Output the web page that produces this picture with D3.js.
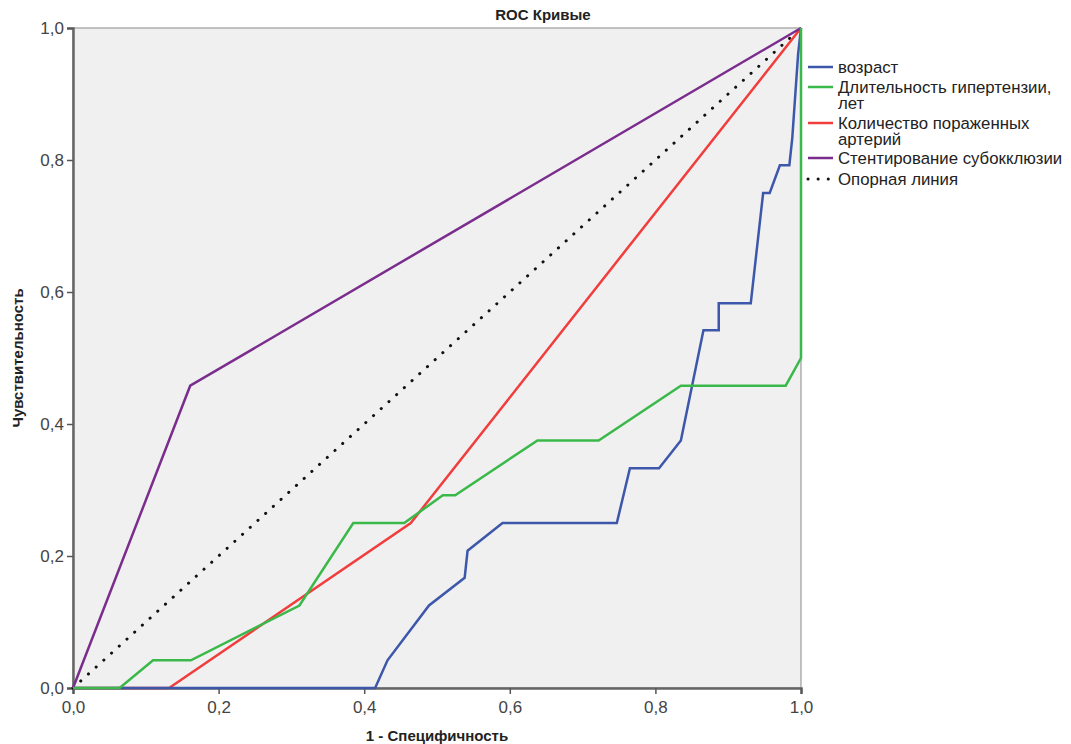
<!DOCTYPE html>
<html>
<head>
<meta charset="utf-8">
<script src="https://cdn.jsdelivr.net/npm/d3@7"></script>
<style>
  body { margin: 0; background: #fff; }
  svg { font-family: "Liberation Sans", Arial, sans-serif; }
</style>
</head>
<body>
<svg id="chart" width="1071" height="744"></svg>
<script>
// ROC curves, points (1 - specificity, sensitivity)
var ageX  = [0, 0.415, 0.432, 0.489, 0.538, 0.542, 0.590, 0.747, 0.765, 0.805, 0.835, 0.866, 0.887, 0.887, 0.931, 0.948, 0.957, 0.971, 0.984, 0.988, 0.996, 1];
var ageY  = [0, 0, 0.042, 0.125, 0.167, 0.208, 0.25, 0.25, 0.333, 0.333, 0.375, 0.542, 0.542, 0.583, 0.583, 0.75, 0.75, 0.792, 0.792, 0.833, 0.96, 1];
var hypX  = [0, 0.064, 0.110, 0.162, 0.311, 0.385, 0.455, 0.508, 0.525, 0.638, 0.722, 0.835, 0.979, 1, 1];
var hypY  = [0, 0, 0.042, 0.042, 0.125, 0.25, 0.25, 0.292, 0.292, 0.375, 0.375, 0.458, 0.458, 0.5, 1];
var artX  = [0, 0.132, 0.464, 1];
var artY  = [0, 0, 0.25, 1];
var stentX = [0, 0.161, 1];
var stentY = [0, 0.458, 1];
var refX  = [0, 1];
var refY  = [0, 1];

var seriesNames = ["возраст", "Длительность гипертензии, лет", "Количество пораженных артерий", "Стентирование субокклюзии", "Опорная линия"];
var legendLines = [["возраст"], ["Длительность гипертензии,", "лет"], ["Количество пораженных", "артерий"], ["Стентирование субокклюзии"], ["Опорная линия"]];
var colors = ["#3d57aa", "#3ab94a", "#f23d3d", "#7b2d8e", "#111111"];
var tickVals = [0, 0.2, 0.4, 0.6, 0.8, 1.0];

var svg = d3.select("#chart");
var margin = {top: 28, left: 73},
    width = 728,
    height = 660;

var x = d3.scaleLinear().domain([0, 1]).range([margin.left, margin.left + width]);
var y = d3.scaleLinear().domain([0, 1]).range([margin.top + height, margin.top]);

// plot background
svg.append("rect")
    .attr("x", x(0)).attr("y", y(1))
    .attr("width", x(1) - x(0)).attr("height", y(0) - y(1))
    .attr("fill", "#f0f0f0")
    .attr("stroke", "#8a8a8a").attr("stroke-width", 1);

var fmt = function (d) { return d3.format(".1f")(d).replace(".", ","); };

var xAxis = svg.append("g")
    .attr("transform", "translate(0," + y(0) + ")")
    .call(d3.axisBottom(x).tickValues(tickVals).tickFormat(fmt).tickSize(6).tickPadding(7));
var yAxis = svg.append("g")
    .attr("transform", "translate(" + x(0) + ",0)")
    .call(d3.axisLeft(y).tickValues(tickVals).tickFormat(fmt).tickSize(6).tickPadding(3));

[xAxis, yAxis].forEach(function (g) {
    g.select(".domain").attr("stroke", "#666").attr("stroke-width", 2.5);
    g.selectAll(".tick line").attr("stroke", "#555").attr("stroke-width", 1.5);
    g.selectAll(".tick text").attr("fill", "#444").style("font-size", "17px")
        .style("font-family", "'Liberation Sans', Arial, sans-serif");
});
yAxis.selectAll(".tick text").attr("dy", "0.35em");

var line = d3.line().x(function (d) { return x(d[0]); }).y(function (d) { return y(d[1]); });
var series = [
    d3.zip(ageX, ageY),
    d3.zip(hypX, hypY),
    d3.zip(artX, artY),
    d3.zip(stentX, stentY)
];

// reference line first (drawn under)
svg.append("path")
    .datum(d3.zip(refX, refY))
    .attr("d", line)
    .attr("fill", "none")
    .attr("stroke", colors[4])
    .attr("stroke-width", 3)
    .attr("stroke-linecap", "round")
    .attr("stroke-dasharray", "0.1,10.3");

var order = [2, 3, 0, 1];
order.forEach(function (i) {
    svg.append("path")
        .datum(series[i])
        .attr("d", line)
        .attr("fill", "none")
        .attr("stroke", colors[i])
        .attr("stroke-width", 2.5)
        .attr("stroke-linejoin", "miter");
});

// legend
var legY = [67, 87, 123, 158, 179];
var leg = svg.append("g");
legendLines.forEach(function (lines, i) {
    var g = leg.append("g").attr("transform", "translate(807," + legY[i] + ")");
    g.append("line")
        .attr("x1", 1).attr("x2", 26).attr("y1", 0).attr("y2", 0)
        .attr("stroke", colors[i])
        .attr("stroke-width", i === 4 ? 3 : 2.5)
        .attr("stroke-linecap", i === 4 ? "round" : "butt")
        .attr("stroke-dasharray", i === 4 ? "0.1,10" : null);
    lines.forEach(function (t, j) {
        g.append("text")
            .attr("x", 31).attr("y", j * 16 + 6)
            .attr("fill", "#222")
            .style("font-size", "16.8px")
            .text(t);
    });
});

// titles
svg.append("text")
    .attr("x", 543).attr("y", 20)
    .attr("text-anchor", "middle")
    .style("font-size", "15px").style("font-weight", "bold")
    .attr("fill", "#222")
    .text("ROC Кривые");

svg.append("text")
    .attr("x", 437).attr("y", 741)
    .attr("text-anchor", "middle")
    .style("font-size", "15px").style("font-weight", "bold")
    .attr("fill", "#222")
    .text("1 - Специфичность");

svg.append("text")
    .attr("transform", "translate(23," + 358 + ") rotate(-90)")
    .attr("text-anchor", "middle")
    .style("font-size", "15px").style("font-weight", "bold")
    .attr("fill", "#222")
    .text("Чувствительность");
</script>
</body>
</html>
